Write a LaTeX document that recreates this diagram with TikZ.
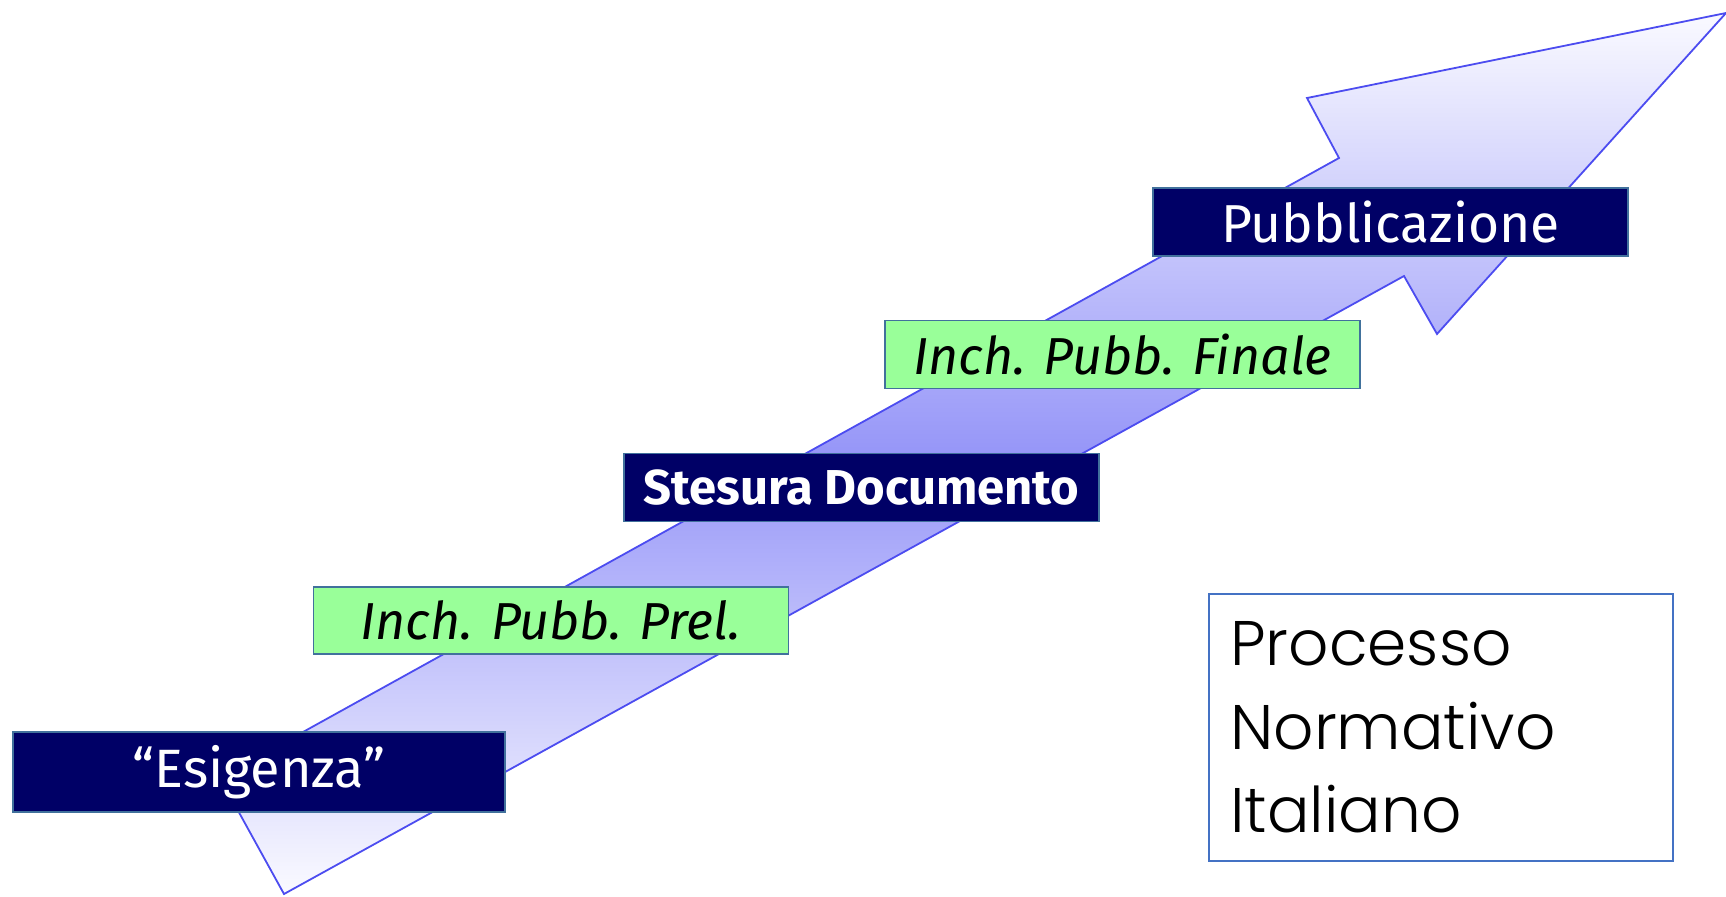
\documentclass[tikz,border=0pt]{standalone}
\usepackage{fontspec}
\setmainfont{Fira Sans}
\newfontfamily\titlefont{Poppins Light}
\definecolor{navyfill}{RGB}{0,0,102}
\definecolor{greenfill}{RGB}{153,255,153}
\definecolor{boxedge}{RGB}{65,113,156}
\definecolor{arrowedge}{RGB}{76,76,240}
\definecolor{arrowlight}{RGB}{250,250,255}
\definecolor{arrowdark}{RGB}{150,150,248}
\definecolor{titleedge}{RGB}{68,114,196}
\begin{document}
\begin{tikzpicture}[x=0.5pt,y=-0.5pt,
  stage/.style={draw=boxedge, line width=0.8pt, inner sep=0pt,
    minimum width=237.5pt, minimum height=34pt},
  darkstage/.style={stage, fill=navyfill, text=white},
  lightstage/.style={stage, fill=greenfill, text=black,
    font=\itshape\fontsize{26}{30}\selectfont},
]
\useasboundingbox (0,0) rectangle (1726,896);

% the rising arrow, light at both ends and darkest in the middle
\path[draw=arrowedge, line width=0.9pt, line join=miter,
      top color=arrowlight, bottom color=arrowlight, middle color=arrowdark]
  (220,778) -- (284,894) -- (1404,276) -- (1437,334) -- (1726,13)
  -- (1307,98) -- (1339,158) -- cycle;

% stages along the arrow
\node[darkstage, minimum width=246pt, minimum height=40pt,
      font=\fontsize{27}{30}\selectfont] (esig) at (259,772) {“Esigenza”};
\node[lightstage, minimum height=33.5pt] (prel) at (551,620.5) {Inch. Pubb. Prel.};
\node[darkstage, font=\bfseries\fontsize{24.5}{28}\selectfont] (stes) at (861.5,487.5) {Stesura Documento};
\node[lightstage] (fin) at (1122.5,354.5) {Inch. Pubb. Finale};
\node[darkstage, font=\fontsize{26.7}{32}\selectfont] (pubb) at (1390.5,222) {Pubblicazione};

% title box
\node[draw=titleedge, line width=0.7pt, fill=white, minimum width=232pt,
      minimum height=133.5pt, inner sep=0pt] (title) at (1441,727.5) {};
\node[anchor=north west, inner sep=0pt, align=left,
      font=\titlefont\fontsize{31.5}{41.8}\selectfont]
  (titletext) at (1230,621) {Processo\\Normativo\\Italiano};
\end{tikzpicture}
\end{document}
